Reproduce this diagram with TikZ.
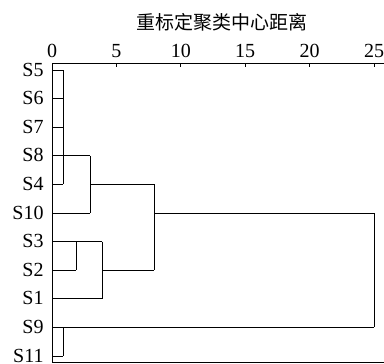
\documentclass[tikz,border=0pt]{standalone}
\usepackage{fontspec}
\setmainfont{Liberation Serif}
\newfontfamily\cjk{Noto Sans CJK SC}
\begin{document}
\begin{tikzpicture}[x=1pt,y=-1pt,line width=0.8pt,
  lab/.style={anchor=east,inner sep=0pt,font=\fontsize{20}{20}\selectfont},
  ticklab/.style={anchor=base,inner sep=0pt,font=\fontsize{20}{20}\selectfont},
  axisline/.style={line width=0.9pt},
  link/.style={line width=0.8pt}]
\useasboundingbox (0,0) rectangle (384,364);
% title
\node[inner sep=0pt,font=\cjk\fontsize{19}{19}\selectfont] (title) at (222,22) {重标定聚类中心距离};
% axis
\coordinate (ax0) at (52,63);
\coordinate (axE) at (384,63);
\coordinate (bot0) at (52,362);
\coordinate (botE) at (384,362);
\draw[axisline] (ax0) -- (axE);
\draw[axisline] (ax0) -- (bot0) -- (botE);
\foreach \v/\x in {0/52,5/116.4,10/180.8,15/245.2,20/309.6,25/374}{
  \coordinate (t\v) at (\x,63);
  \draw[axisline] (t\v) -- ++(0,4);
  \node[ticklab] (tl\v) at (\x,57) {\v};
}
% leaves
\foreach \s/\y in {5/70,6/98.6,7/127.2,8/155.8,4/184.4,10/213,3/241.6,2/270.2,1/298.8,9/327.4,11/356}{
  \coordinate (l\s) at (52,\y);
  \node[lab] (n\s) at (44,\y-0.5) {S\s};
}
% junction coordinates
\coordinate (ja) at (63,0);
\coordinate (jb) at (90,0);
\coordinate (jc) at (154,0);
\coordinate (jd) at (76,0);
\coordinate (je) at (102,0);
\coordinate (jf) at (374,0);
% cluster S5 S6 S7 S8 S4
\draw[link] (l5) -- (l5 -| ja);
\draw[link] (l6) -- (l6 -| ja);
\draw[link] (l7) -- (l7 -| ja);
\draw[link] (l4) -- (l4 -| ja);
\draw[link] (l5 -| ja) -- (l4 -| ja);
\draw[link] (l8) -- (l8 -| jb);
\draw[link] (l10) -- (l10 -| jb);
\draw[link] (l8 -| jb) -- (l10 -| jb);
\draw[link] (l4 -| jb) -- (l4 -| jc);
% cluster S3 S2 S1
\draw[link] (l3) -- (l3 -| je);
\draw[link] (l2) -- (l2 -| jd);
\draw[link] (l3 -| jd) -- (l2 -| jd);
\draw[link] (l1) -- (l1 -| je);
\draw[link] (l3 -| je) -- (l1 -| je);
\draw[link] (l2 -| je) -- (l2 -| jc);
\draw[link] (l4 -| jc) -- (l2 -| jc);
\draw[link] (l10 -| jc) -- (l10 -| jf);
% cluster S9 S11
\draw[link] (l9) -- (l9 -| jf);
\draw[link] (l11) -- (l11 -| ja);
\draw[link] (l9 -| ja) -- (l11 -| ja);
\draw[link] (l10 -| jf) -- (l9 -| jf);
\end{tikzpicture}
\end{document}
